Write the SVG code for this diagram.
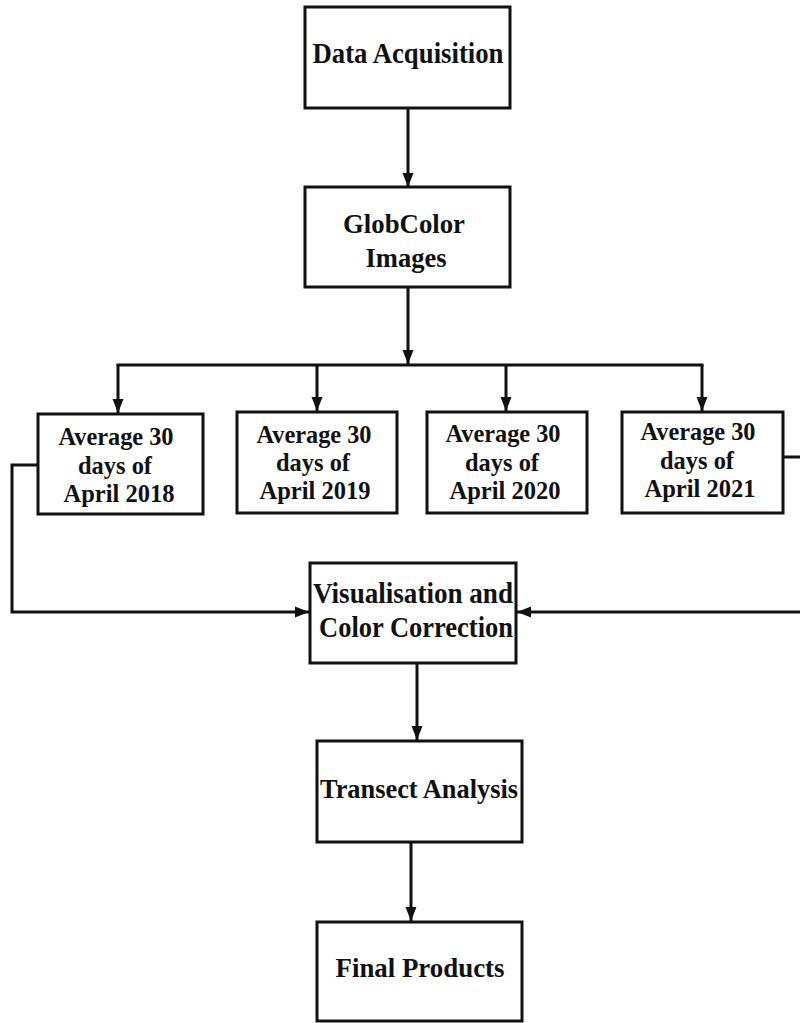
<svg xmlns="http://www.w3.org/2000/svg" width="800" height="1023" viewBox="0 0 800 1023">
<style>
.box{fill:#fff;stroke:#111;stroke-width:3}
.t{font-family:"Liberation Serif","Times New Roman",serif;font-weight:bold;fill:#111;text-anchor:middle}
.a{font-size:26px}
.c{fill:none;stroke:#111;stroke-width:3}
</style>
<defs>
<marker id="ah" markerUnits="userSpaceOnUse" markerWidth="14" markerHeight="14" viewBox="0 0 14 14" refX="14" refY="7" orient="auto">
<path d="M0,1.5 L14,7 L0,12.5 Z" fill="#111"/>
</marker>
</defs>
<rect width="800" height="1023" fill="#fff"/>
<g id="connectors">
<line class="c" x1="408" y1="108" x2="408" y2="187" marker-end="url(#ah)"/>
<line class="c" x1="408" y1="287" x2="408" y2="364" marker-end="url(#ah)"/>
<line class="c" x1="116.5" y1="365" x2="703.5" y2="365"/>
<line class="c" x1="118" y1="365" x2="118" y2="413" marker-end="url(#ah)"/>
<line class="c" x1="317" y1="365" x2="317" y2="411" marker-end="url(#ah)"/>
<line class="c" x1="506" y1="365" x2="506" y2="411" marker-end="url(#ah)"/>
<line class="c" x1="702" y1="365" x2="702" y2="411" marker-end="url(#ah)"/>
<path class="c" d="M38,465 H12 V612 H309" marker-end="url(#ah)"/>
<path class="c" d="M783,457 H805 V612 H517" marker-end="url(#ah)"/>
<line class="c" x1="417" y1="663" x2="417" y2="740" marker-end="url(#ah)"/>
<line class="c" x1="411" y1="842" x2="411" y2="921" marker-end="url(#ah)"/>
</g>
<g id="data-acquisition">
<rect class="box" x="305" y="7" width="205" height="101"/>
<text class="t" x="408" y="63" font-size="29" textLength="191" lengthAdjust="spacingAndGlyphs">Data Acquisition</text>
</g>
<g id="globcolor">
<rect class="box" x="305" y="187" width="205" height="100"/>
<text class="t" x="404" y="233" font-size="28" textLength="122" lengthAdjust="spacingAndGlyphs">GlobColor</text>
<text class="t" x="406" y="267" font-size="28" textLength="81" lengthAdjust="spacingAndGlyphs">Images</text>
</g>
<g id="april-2018">
<rect class="box" x="38" y="414" width="165" height="100"/>
<text class="t a" x="116" y="445" textLength="115" lengthAdjust="spacingAndGlyphs">Average 30</text>
<text class="t a" x="115" y="474" textLength="74" lengthAdjust="spacingAndGlyphs">days of</text>
<text class="t a" x="119" y="502" textLength="111" lengthAdjust="spacingAndGlyphs">April 2018</text>
</g>
<g id="april-2019">
<rect class="box" x="237" y="412" width="160" height="101"/>
<text class="t a" x="314" y="443" textLength="115" lengthAdjust="spacingAndGlyphs">Average 30</text>
<text class="t a" x="313" y="471" textLength="74" lengthAdjust="spacingAndGlyphs">days of</text>
<text class="t a" x="315" y="499" textLength="111" lengthAdjust="spacingAndGlyphs">April 2019</text>
</g>
<g id="april-2020">
<rect class="box" x="427" y="412" width="160" height="101"/>
<text class="t a" x="503" y="442" textLength="115" lengthAdjust="spacingAndGlyphs">Average 30</text>
<text class="t a" x="502" y="471" textLength="74" lengthAdjust="spacingAndGlyphs">days of</text>
<text class="t a" x="505" y="499" textLength="111" lengthAdjust="spacingAndGlyphs">April 2020</text>
</g>
<g id="april-2021">
<rect class="box" x="622" y="412" width="161" height="101"/>
<text class="t a" x="698" y="440" textLength="115" lengthAdjust="spacingAndGlyphs">Average 30</text>
<text class="t a" x="697" y="469" textLength="74" lengthAdjust="spacingAndGlyphs">days of</text>
<text class="t a" x="700" y="497" textLength="111" lengthAdjust="spacingAndGlyphs">April 2021</text>
</g>
<g id="visualisation">
<rect class="box" x="310" y="563" width="206" height="100"/>
<text class="t" x="413" y="603" font-size="29" textLength="200" lengthAdjust="spacingAndGlyphs">Visualisation  and</text>
<text class="t" x="416" y="637" font-size="29" textLength="194" lengthAdjust="spacingAndGlyphs">Color Correction</text>
</g>
<g id="transect">
<rect class="box" x="317" y="741" width="205" height="101"/>
<text class="t" x="419" y="798" font-size="28" textLength="198" lengthAdjust="spacingAndGlyphs">Transect  Analysis</text>
</g>
<g id="final-products">
<rect class="box" x="317" y="922" width="205" height="99"/>
<text class="t" x="420" y="977" font-size="28" textLength="169" lengthAdjust="spacingAndGlyphs">Final Products</text>
</g>
</svg>
